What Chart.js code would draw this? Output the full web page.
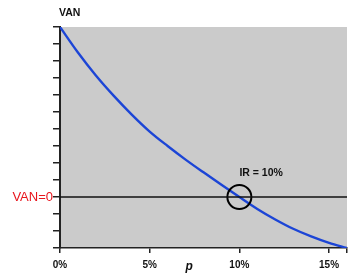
<!DOCTYPE html>
<html>
<head>
<meta charset="utf-8">
<script src="https://cdn.jsdelivr.net/npm/chart.js@4"></script>
<style>
html,body{margin:0;padding:0;background:#fff;}
#wrap{width:350px;height:278px;position:relative;}
</style>
</head>
<body>
<div id="wrap"><canvas id="c" width="350" height="278"></canvas></div>
<script>
// Data
const rates = [0, 1, 2, 3, 4, 5, 6, 7, 8, 9, 10, 11, 12, 13, 14, 15, 16];
const van   = [10, 8.5, 7.15, 5.95, 4.85, 3.85, 3.0, 2.2, 1.45, 0.72, 0, -0.7, -1.32, -1.87, -2.32, -2.7, -3.0];
const xTicks = [0, 5, 10, 15, 16];
const xTickLabels = ['0%', '5%', '10%', '15%', ''];
const irr = [10];
const irrVan = [0];

const curve = rates.map((r, i) => ({x: r, y: van[i]}));
const irrPoint = irr.map((r, i) => ({x: r, y: irrVan[i]}));

const decor = {
  id: 'decor',
  beforeDraw(chart) {
    const {ctx, chartArea: a} = chart;
    ctx.save();
    ctx.fillStyle = '#cbcbcb';
    ctx.fillRect(a.left, a.top, a.right - a.left, a.bottom - a.top);
    ctx.restore();
  },
  afterDatasetsDraw(chart) {
    const {ctx, chartArea: a, scales} = chart;
    const x = scales.x, y = scales.y;
    const y0 = y.getPixelForValue(0);
    ctx.save();
    ctx.strokeStyle = '#111';
    ctx.lineWidth = 1.3;
    ctx.beginPath();
    ctx.moveTo(a.left, y0);
    ctx.lineTo(a.right, y0);
    ctx.stroke();
    ctx.textBaseline = 'middle';
    ctx.fillStyle = '#111';
    ctx.font = 'bold 10.5px "Liberation Sans", Arial, sans-serif';
    ctx.textAlign = 'left';
    ctx.fillText('VAN', a.left - 1, 13);
    ctx.fillStyle = '#e8141c';
    ctx.font = '13px "Liberation Sans", Arial, sans-serif';
    ctx.textAlign = 'right';
    ctx.fillText('VAN=0', a.left - 7, y0);
    ctx.fillStyle = '#111';
    ctx.font = 'bold 10.5px "Liberation Sans", Arial, sans-serif';
    ctx.textAlign = 'left';
    ctx.fillText('IR = 10%', x.getPixelForValue(irr[0]), y0 - 24);
    ctx.font = 'italic bold 12px "Liberation Sans", Arial, sans-serif';
    ctx.textAlign = 'center';
    ctx.fillText('p', x.getPixelForValue(7.2), 267);
    ctx.restore();
  }
};

new Chart(document.getElementById('c'), {
  type: 'scatter',
  data: {
    datasets: [
      {
        data: curve,
        showLine: true,
        borderColor: '#1c45d6',
        borderWidth: 2.4,
        pointRadius: 0,
        cubicInterpolationMode: 'monotone',
        order: 2
      },
      {
        data: irrPoint,
        pointRadius: 12,
        pointHoverRadius: 12,
        pointBorderColor: '#000',
        pointBorderWidth: 2,
        pointBackgroundColor: 'rgba(0,0,0,0)',
        order: 1
      }
    ]
  },
  options: {
    responsive: false,
    animation: false,
    events: [],
    layout: {autoPadding: false, padding: {top: 27, right: 3, left: 0, bottom: 0}},
    plugins: {legend: {display: false}, tooltip: {enabled: false}},
    scales: {
      x: {
        type: 'linear',
        min: 0,
        max: 16,
        afterBuildTicks(s) { s.ticks = xTicks.map(v => ({value: v})); },
        afterFit(s) { s.height = 30; s.paddingRight = 0; s.paddingLeft = 0; },
        ticks: {
          autoSkip: false,
          maxRotation: 0,
          padding: 6,
          color: '#111',
          font: {family: '"Liberation Sans", Arial, sans-serif', size: 10, weight: 'bold'},
          callback(v) { const i = xTicks.indexOf(v); return i >= 0 ? xTickLabels[i] : ''; }
        },
        grid: {display: true, drawOnChartArea: false, drawTicks: true, tickLength: 5, color: '#222', lineWidth: 1.5},
        border: {display: true, color: '#222', width: 1.5}
      },
      y: {
        type: 'linear',
        min: -3,
        max: 10,
        afterFit(s) { s.width = 60; s.paddingTop = 0; s.paddingBottom = 0; },
        ticks: {display: false, stepSize: 1},
        grid: {display: true, drawOnChartArea: false, drawTicks: true, tickLength: 7, color: '#222', lineWidth: 1.5},
        border: {display: true, color: '#222', width: 2}
      }
    }
  },
  plugins: [decor]
});
</script>
</body>
</html>
